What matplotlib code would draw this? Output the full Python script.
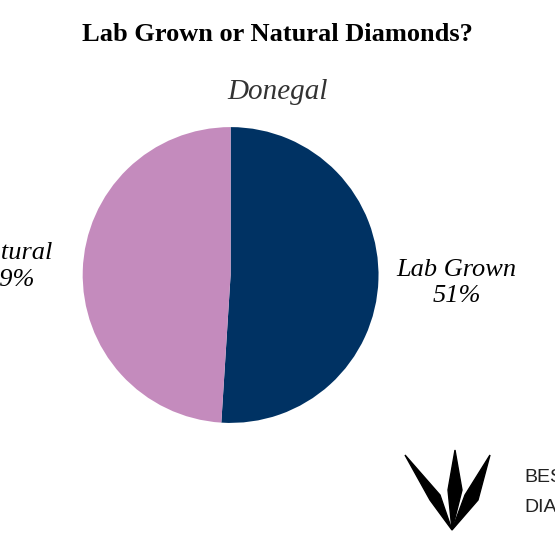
import matplotlib
matplotlib.use("Agg")
import matplotlib.pyplot as plt
from matplotlib.patches import Polygon

labels = ["Lab Grown", "Natural"]
shares = [51, 49]
colors = ["#003263", "#c48bbd"]

fig = plt.figure(figsize=(5.55, 5.55), dpi=100)
serif = ["Liberation Serif", "DejaVu Serif"]

fig.text(0.5, 0.937, "Lab Grown or Natural Diamonds?", ha="center", va="center",
         fontsize=19, fontweight="bold", family=serif)
fig.text(0.5, 0.834, "Donegal", ha="center", va="center", fontsize=21,
         style="italic", family=serif, color="#333333")

ax = fig.add_axes([0.149, 0.238, 0.533, 0.533])
ax.pie(shares, colors=colors, startangle=90, counterclock=False,
       wedgeprops=dict(linewidth=0))
ax.set_xlim(-1, 1)
ax.set_ylim(-1, 1)
ax.set_aspect("equal")

# slice labels
fig.text(0.823, 0.49, f"{labels[0]}\n{shares[0]}%", ha="center", va="center",
         fontsize=19, style="italic", family=serif, linespacing=1.25)
fig.text(0.02, 0.52, f"{labels[1]}\n{shares[1]}%", ha="center", va="center",
         fontsize=19, style="italic", family=serif, linespacing=1.25)

# logo: spiky crown shape
W, H = 555, 555
def px(pts):
    return [(x / W, 1 - y / H) for x, y in pts]
spikes = [
    [(405, 455), (440, 495), (452, 530), (430, 500)],
    [(455, 450), (448, 490), (452, 530), (462, 490)],
    [(490, 455), (465, 495), (452, 530), (478, 500)],
]
for s in spikes:
    fig.patches.append(Polygon(px(s), closed=True, transform=fig.transFigure,
                               facecolor="black", edgecolor="black"))
fig.text(0.944, 1 - 477 / H, "BEST", ha="left", va="center", fontsize=14,
         family=["Liberation Sans", "DejaVu Sans"], color="#222222")
fig.text(0.944, 1 - 507 / H, "DIAMONDS", ha="left", va="center", fontsize=14,
         family=["Liberation Sans", "DejaVu Sans"], color="#222222")

fig.savefig("out.png", dpi=100, facecolor="white")
